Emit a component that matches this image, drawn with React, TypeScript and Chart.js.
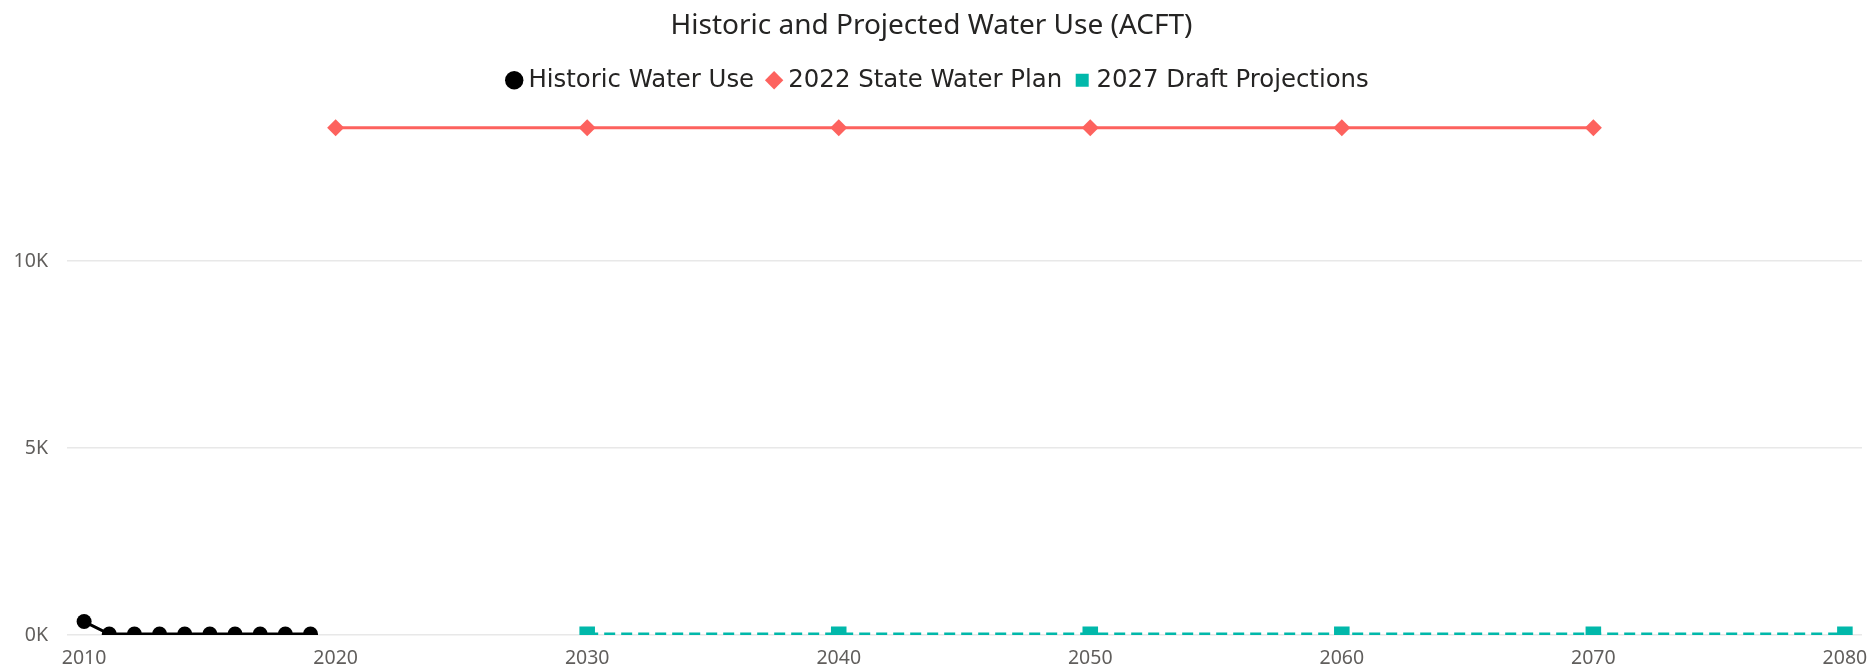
import React, { useEffect, useRef } from "react";
import { Chart, registerables } from "chart.js";

Chart.register(...registerables);

const titleText = "Historic and Projected Water Use (ACFT)";

const historicYears = [2010, 2011, 2012, 2013, 2014, 2015, 2016, 2017, 2018, 2019];
const historicValues = [360, 25, 25, 25, 25, 25, 25, 25, 25, 25];

const planYears = [2020, 2030, 2040, 2050, 2060, 2070];
const planValues = [13564, 13564, 13564, 13564, 13564, 13564];

const draftYears = [2030, 2040, 2050, 2060, 2070, 2080];
const draftValues = [20, 20, 20, 20, 20, 20];

const xTickValues = [2010, 2020, 2030, 2040, 2050, 2060, 2070, 2080];
const yTickValues = [0, 5000, 10000];

const W = 1873;
const H = 669;

const legendShift = {
  id: "legendShift",
  afterLayout(chart: any) {
    if (chart.legend) {
      chart.legend.left += 9;
      chart.legend.right += 9;
    }
  },
};

export default function App() {
  const ref = useRef<HTMLCanvasElement | null>(null);

  useEffect(() => {
    if (!ref.current) return;
    const defaultGen = Chart.defaults.plugins.legend.labels.generateLabels;
    const chart = new Chart(ref.current, {
      type: "line",
      plugins: [legendShift],
      data: {
        datasets: [
          {
            label: "Historic Water Use",
            data: historicYears.map((x, i) => ({ x, y: historicValues[i] })),
            borderColor: "#000000",
            backgroundColor: "#000000",
            pointBackgroundColor: "#000000",
            pointBorderWidth: 0,
            borderWidth: 3,
            pointStyle: "circle",
            pointRadius: 7.5,
            tension: 0,
          },
          {
            label: "2022 State Water Plan",
            data: planYears.map((x, i) => ({ x, y: planValues[i] })),
            borderColor: "#FD625E",
            backgroundColor: "#FD625E",
            pointBackgroundColor: "#FD625E",
            pointBorderWidth: 0,
            borderWidth: 3,
            pointStyle: "rectRot",
            pointRadius: 8.5,
            tension: 0,
          },
          {
            label: "2027 Draft Projections",
            data: draftYears.map((x, i) => ({ x, y: draftValues[i] })),
            borderColor: "#01B8AA",
            backgroundColor: "#01B8AA",
            pointBackgroundColor: "#01B8AA",
            pointBorderWidth: 0,
            borderWidth: 3.5,
            borderDash: [11, 6],
            pointStyle: "rect",
            pointRadius: 11,
            tension: 0,
          },
        ],
      },
      options: {
        responsive: false,
        animation: false,
        layout: { padding: { left: 0, right: 10, top: 0, bottom: 0 } },
        plugins: {
          tooltip: { enabled: false },
          title: {
            display: true,
            text: titleText,
            color: "#252423",
            font: { family: "'Noto Sans', sans-serif", size: 28, weight: "normal" },
            padding: { top: 9, bottom: 7.4 },
          },
          legend: {
            display: true,
            position: "top",
            align: "center",
            labels: {
              usePointStyle: true,
              boxWidth: 4,
              boxHeight: 13,
              padding: 18,
              color: "#252423",
              font: { family: "'DejaVu Sans', sans-serif", size: 24.4 },
              generateLabels: (c: any) =>
                defaultGen(c).map((l: any) => ({ ...l, lineWidth: 0, lineDash: [], strokeStyle: l.fillStyle })),
            },
          },
        },
        scales: {
          x: {
            type: "linear",
            min: 2009.32,
            max: 2080.68,
            grid: { display: false, drawTicks: false },
            border: { display: false },
            afterBuildTicks: (axis: any) => {
              axis.ticks = xTickValues.map((v) => ({ value: v }));
            },
            afterFit: (axis: any) => {
              axis.height = 34;
              axis.paddingLeft = 0;
              axis.paddingRight = 0;
            },
            ticks: {
              color: "#605E5C",
              padding: 11.8,
              maxRotation: 0,
              autoSkip: false,
              font: { family: "'Noto Sans', sans-serif", size: 19.5 },
              callback: (v: any) => String(v),
            },
          },
          y: {
            type: "linear",
            min: 0,
            max: 14241,
            grid: { color: "#E8E8E8", lineWidth: 1.5, drawTicks: false },
            border: { display: false },
            afterBuildTicks: (axis: any) => {
              axis.ticks = yTickValues.map((v) => ({ value: v }));
            },
            afterFit: (axis: any) => {
              axis.width = 67;
            },
            ticks: {
              color: "#605E5C",
              padding: 19,
              font: { family: "'Noto Sans', sans-serif", size: 19.5 },
              callback: (v: any) => Number(v) / 1000 + "K",
            },
          },
        },
      },
    });
    return () => chart.destroy();
  }, []);

  return (
    <div style={{ position: "absolute", left: 0, top: 0, width: W, height: H, background: "#fff" }}>
      <canvas ref={ref} width={W} height={H} style={{ display: "block" }} />
    </div>
  );
}
